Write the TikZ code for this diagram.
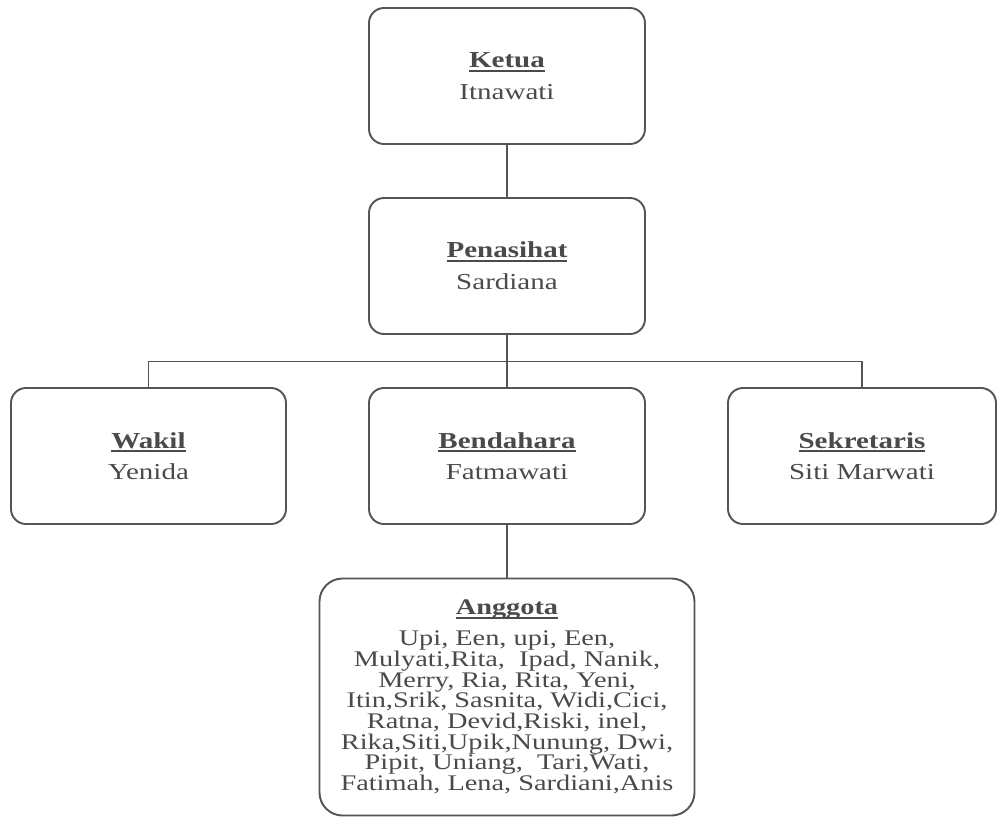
\documentclass[tikz,border=0pt]{standalone}
\usepackage{fontspec}
\setmainfont{Liberation Serif}[FakeStretch=1.27]
\usetikzlibrary{positioning}
\definecolor{abu}{HTML}{555555}
\definecolor{teks}{HTML}{4A4A4A}
\newsavebox\boxjudul
\newcommand{\judul}[1]{\sbox\boxjudul{\textbf{#1}}\rlap{\rule[-2.4pt]{\wd\boxjudul}{1pt}}\usebox\boxjudul}

\begin{document}
\begin{tikzpicture}[node distance=3.8cm]
	\tikzset{jab/.style={draw=abu, line width=1.1pt, rounded corners=0.3cm, minimum width=5.52cm,
		minimum height=2.72cm, align=center, text=teks, font=\fontsize{13}{18}\selectfont},
	agt/.style={jab, rounded corners=0.46cm, minimum width=7.5cm, minimum height=4.74cm,
		font=\fontsize{12.7}{11.8}\selectfont},
	hub/.style={draw=abu, line width=1.1pt}};

	\useasboundingbox (-10.14,-14.82) rectangle (9.8,1.52);

	\node[jab] (ketua) at (0,0) {\judul{Ketua}\\Itnawati};
	\node[jab, below of=ketua] (penasihat) {\judul{Penasihat}\\Sardiana};
	\node[jab, below of=penasihat] (bendahara) {\judul{Bendahara}\\Fatmawati};
	\node[jab, left of=bendahara, node distance=7.17cm, minimum width=5.5cm] (wakil) {\judul{Wakil}\\Yenida};
	\node[jab, right of=bendahara, node distance=7.1cm, minimum width=5.36cm] (sekretaris) {\judul{Sekretaris}\\Siti Marwati};
	\node[agt, below of=bendahara, node distance=4.82cm] (anggota) {\judul{Anggota}\\[5.8pt]
		Upi, Een, upi, Een,\\
		Mulyati,Rita,~ Ipad, Nanik,\\
		Merry, Ria, Rita, Yeni,\\
		Itin,Srik, Sasnita, Widi,Cici,\\
		Ratna, Devid,Riski, inel,\\
		Rika,Siti,Upik,Nunung, Dwi,\\
		Pipit, Uniang,~ Tari,Wati,\\
		Fatimah, Lena, Sardiani,Anis};
	\coordinate[above of=bendahara, node distance=1.89cm] (cabang);

	\draw[hub] (ketua) -- (penasihat);
	\draw[hub] (penasihat) -- (bendahara);
	\draw[hub] (wakil.north) |- (cabang) -| (sekretaris.north);
	\draw[hub] (bendahara) -- (anggota);
\end{tikzpicture}
\end{document}
